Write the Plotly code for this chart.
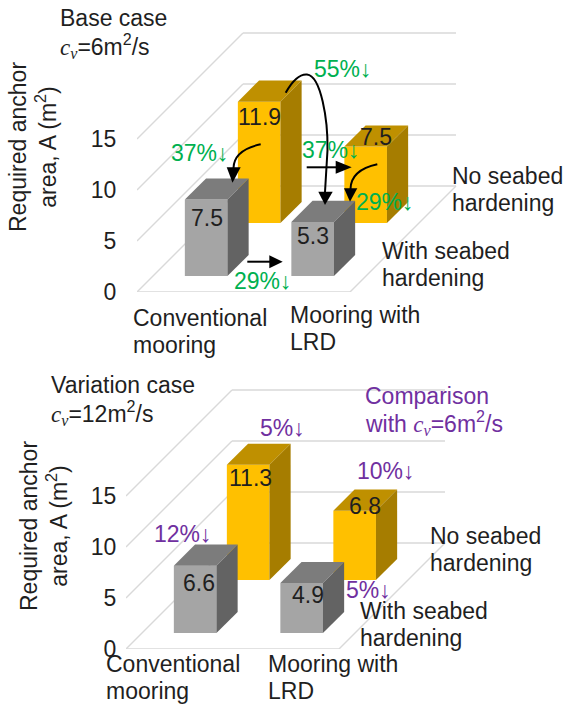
import plotly.graph_objects as go

# Required anchor area (m2) per mooring type
base_no_hardening = [11.9, 7.5]
base_with_hardening = [7.5, 5.3]
variation_no_hardening = [11.3, 6.8]
variation_with_hardening = [6.6, 4.9]
value_ticks = [0, 5, 10, 15]

W, H = 565, 706
FONT = "Liberation Sans"
DARK = "#1f1f1f"
GREEN = "#00B050"
PURPLE = "#7030A0"
GRID = "#D9D9D9"
GOLD = ("#FFC000", "#BF9000", "#A67D00")
GRAY = ("#A5A5A5", "#7C7C7C", "#636363")

FLOOR_W = 213.0   # floor width on screen
DEPTH = 106.0     # oblique shift of the floor depth, both directions
PER_UNIT = 10.2   # screen length of one value unit
BAR = 0.2         # bar width and depth, as a share of the floor
STARTS = [0.15, 0.65]


def project(u, d, z):
    """Oblique projection of floor position (u, d) and height z onto the 2D axes."""
    return u + d * DEPTH / FLOOR_W, z + d * DEPTH / PER_UNIT


def face(points, color, xa, ya):
    xs, ys = zip(*[project(*p) for p in points])
    return go.Scatter(x=list(xs) + [xs[0]], y=list(ys) + [ys[0]], mode="lines",
                      fill="toself", fillcolor=color, line=dict(width=0, color=color),
                      hoverinfo="skip", showlegend=False, xaxis=xa, yaxis=ya)


def cuboid(u, d, z, colors, xa, ya):
    u2, d2 = u + BAR, d + BAR
    front = [(u, d, 0), (u2, d, 0), (u2, d, z), (u, d, z)]
    top = [(u, d, z), (u2, d, z), (u2, d2, z), (u, d2, z)]
    side = [(u2, d, 0), (u2, d2, 0), (u2, d2, z), (u2, d, z)]
    return [face(front, colors[0], xa, ya), face(top, colors[1], xa, ya), face(side, colors[2], xa, ya)]


def grid_line(a, b, xa, ya):
    pa, pb = project(*a), project(*b)
    return go.Scatter(x=[pa[0], pb[0]], y=[pa[1], pb[1]], mode="lines",
                      line=dict(color=GRID, width=1.4), cliponaxis=False,
                      hoverinfo="skip", showlegend=False, xaxis=xa, yaxis=ya)


fig = go.Figure()
annotations = []
shapes = []


def panel(no_hard, with_hard, xa, ya, offsets):
    for z in value_ticks:
        fig.add_trace(grid_line((0, 0, z), (0, 1, z), xa, ya))
        fig.add_trace(grid_line((0, 1, z), (1, 1, z), xa, ya))
    fig.add_trace(grid_line((0, 0, 0), (1, 0, 0), xa, ya))
    fig.add_trace(grid_line((1, 0, 0), (1, 1, 0), xa, ya))
    for row, values, colors in ((1, no_hard, GOLD), (0, with_hard, GRAY)):
        for col, v in enumerate(values):
            for tr in cuboid(STARTS[col], STARTS[row], v, colors, xa, ya):
                fig.add_trace(tr)
            px, py = project(STARTS[col] + BAR / 2, STARTS[row], v)
            dx, dy = offsets[(row, col)]
            annotations.append(dict(x=px, y=py, xref=xa, yref=ya, text=f"{v}", showarrow=False,
                                    xshift=dx, yshift=-dy, xanchor="center", yanchor="middle",
                                    font=dict(family=FONT, size=23, color=DARK)))


panel(base_no_hardening, base_with_hardening, "x", "y",
      {(1, 0): (0, 15), (1, 1): (10, -10), (0, 0): (1, 18), (0, 1): (0, 14)})
panel(variation_no_hardening, variation_with_hardening, "x2", "y2",
      {(1, 0): (2, 13), (1, 1): (10, -5), (0, 0): (4, 17), (0, 1): (6, 12)})


def label(x, y, text, color=DARK, anchor="left", angle=0, align="left"):
    annotations.append(dict(x=x, y=y, xref="x3", yref="y3", text=text, showarrow=False,
                            xanchor=anchor, yanchor="middle", textangle=angle, align=align,
                            borderpad=0, font=dict(family=FONT, size=23, color=color)))


def two_lines(x, y, first, second):
    # Tighter line pitch than the default multi-line annotation spacing
    label(x, y, first)
    label(x, y + 27, second)


CV = '<span style="font-family:Liberation Serif"><i>c<sub>v</sub></i></span>'

label(59, 18, "Base case")
label(59, 46, f"{CV}=6m<sup>2</sup>/s")
label(33, 147, "Required anchor<br>area, A (m<sup>2</sup>)", anchor="center", angle=-90, align="center")
two_lines(132, 318, "Conventional", "mooring")
two_lines(289, 315, "Mooring with", "LRD")
two_lines(451, 176, "No seabed", "hardening")
two_lines(381, 251, "With seabed", "hardening")
for x, y, t in [(343, 69, "55%↓"), (200, 153, "37%↓"), (331, 150, "37%↓"),
                (385, 202, "29%↓"), (263, 281, "29%↓")]:
    label(x, y, t, GREEN, "center")

label(50, 385, "Variation case")
label(50, 413, f"{CV}=12m<sup>2</sup>/s")
label(44, 526, "Required anchor<br>area, A (m<sup>2</sup>)", anchor="center", angle=-90, align="center")
two_lines(105, 664, "Conventional", "mooring")
two_lines(267, 664, "Mooring with", "LRD")
two_lines(429, 536, "No seabed", "hardening")
two_lines(359, 611, "With seabed", "hardening")
label(364, 396, "Comparison", PURPLE)
label(364, 423, f"with {CV}=6m<sup>2</sup>/s", PURPLE)
for x, y, t in [(282, 428, "5%↓"), (386, 471, "10%↓"), (183, 534, "12%↓"), (368, 590, "5%↓")]:
    label(x, y, t, PURPLE, "center")


def arrow(path, tip, b1, b2):
    shapes.append(dict(type="path", path=path, xref="x3", yref="y3", layer="above",
                       line=dict(color="black", width=2)))
    head = f"M{tip[0]},{tip[1]} L{b1[0]},{b1[1]} L{b2[0]},{b2[1]} Z"
    shapes.append(dict(type="path", path=head, xref="x3", yref="y3", layer="above",
                       fillcolor="black", line=dict(color="black", width=0)))


arrow("M260.7,144.3 Q234,150 233.5,168", (232.5, 182.7), (226.7, 167.3), (240.7, 167.3))
arrow("M306.7,167.3 L336,167.3", (351.7, 167.3), (335.7, 160.8), (335.7, 173.8))
arrow("M377.3,164.3 Q351,170 350.5,189", (350, 201.7), (344, 188.3), (357.3, 188.3))
arrow("M285.7,92.7 C294,78 301,74 307,74.5 C321,76 328,120 327.5,150 L325,192",
      (325, 205), (318.3, 191.7), (332.7, 191.7))
arrow("M247.3,261.7 L270,261.7", (282.7, 261.7), (269.3, 255.2), (269.3, 268.2))


def value_axis(domain, rng):
    return dict(domain=domain, range=rng, tickmode="array", tickvals=value_ticks,
                showgrid=False, zeroline=False, showline=False, ticks="outside", ticklen=15,
                tickcolor="rgba(0,0,0,0)", tickfont=dict(family=FONT, size=23, color=DARK))


def hidden_x(domain, rng):
    return dict(domain=domain, range=rng, visible=False, fixedrange=True)


fig.update_layout(
    width=W, height=H, margin=dict(l=0, r=0, t=0, b=0, pad=0, autoexpand=False), autosize=False,
    paper_bgcolor="white", plot_bgcolor="rgba(0,0,0,0)", showlegend=False,
    xaxis=hidden_x([137 / W, 1], [0, (W - 137) / FLOOR_W]),
    yaxis=value_axis([1 - 292 / H, 1], [0, 292 / PER_UNIT]),
    xaxis2=hidden_x([126 / W, 1], [0, (W - 126) / FLOOR_W]),
    yaxis2=value_axis([1 - 649 / H, 1 - 360 / H], [0, 289 / PER_UNIT]),
    xaxis3=dict(domain=[0, 1], range=[0, W], visible=False),
    yaxis3=dict(domain=[0, 1], range=[H, 0], visible=False),
    annotations=annotations, shapes=shapes,
)
# Empty trace so the full-page overlay axes exist for the annotation layer
fig.add_trace(go.Scatter(x=[], y=[], xaxis="x3", yaxis="y3", showlegend=False))

fig.write_html("out.html", config=dict(displayModeBar=False))
